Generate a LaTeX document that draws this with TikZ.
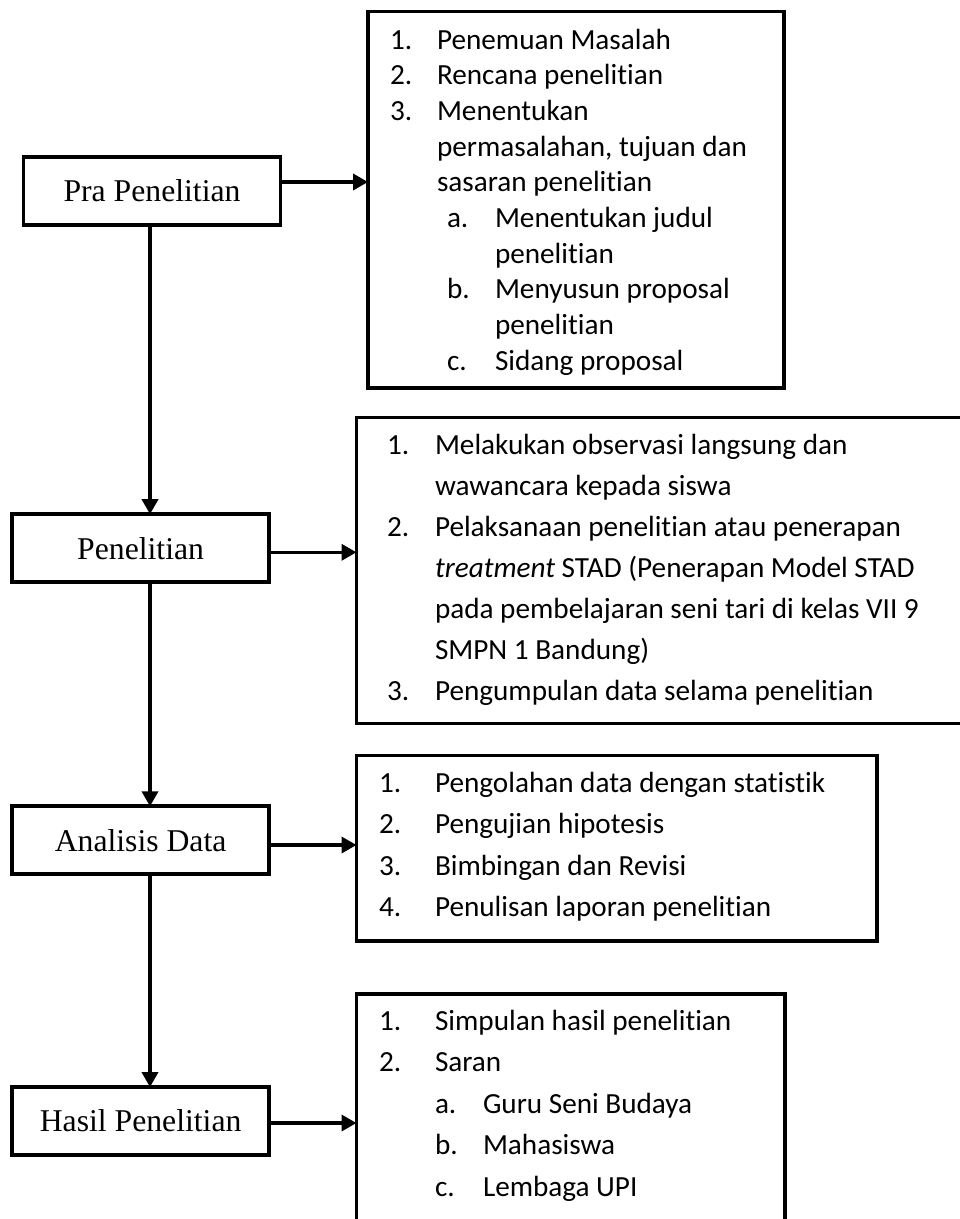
\documentclass[tikz,border=0pt]{standalone}
\usepackage{fontspec}
\setmainfont{Carlito}[Ligatures=NoCommon]
\newfontfamily\stagefont{Liberation Serif}
\usetikzlibrary{arrows.meta,calc}
\begin{document}
\begin{tikzpicture}[x=1pt,y=-1pt,
  stage/.style={draw, line width=3.8pt, minimum width=257pt, minimum height=68pt, inner sep=0pt, outer sep=0pt, font=\stagefont\fontsize{31.7pt}{38pt}\selectfont},
  listbox/.style={draw, line width=3.8pt, inner sep=0pt, outer sep=0pt},
  item/.style={anchor=base west, inner sep=0pt, outer sep=0pt, font=\fontsize{29.2pt}{35pt}\selectfont},
  flow/.style={line width=3.6pt, -{Triangle[length=15pt,width=16pt]}}]
\fill[white] (0,0) rectangle (960,1219);
\useasboundingbox (0,0) rectangle (960,1219);
\clip (0,0) rectangle (960,1219);

% stage boxes
\node[stage] (pra) at (152,190.6) {Pra Penelitian};
\node[stage] (pen) at (140.6,548.2) {Penelitian};
\node[stage] (ana) at (140.6,840.3) {Analisis Data};
\node[stage] (has) at (140.6,1121.1) {Hasil Penelitian};

% list boxes
\node[listbox, minimum width=416pt, minimum height=376.5pt] (b1) at (576,199.75) {};
\node[listbox, minimum width=643.5pt, minimum height=306pt] (b2) at (678.25,570.5) {};
\node[listbox, minimum width=520.2pt, minimum height=185.5pt] (b3) at (616.6,848.25) {};
\node[listbox, minimum width=428.5pt, minimum height=265.7pt] (b4) at (570.75,1127.15) {};

% vertical flow
\draw[flow] ([xshift=-2pt]pra.south) -- ([xshift=9.4pt]pen.north);
\draw[flow] ([xshift=9.4pt]pen.south) -- ([xshift=9.4pt]ana.north);
\draw[flow] ([xshift=9.4pt]ana.south) -- ([xshift=9.4pt]has.north);

% horizontal arrows
\coordinate (s1) at ([yshift=8.6pt]pra.east);
\coordinate (s2) at ([yshift=-4.1pt]pen.east);
\coordinate (s3) at ([yshift=-4.7pt]ana.east);
\coordinate (s4) at ([yshift=-1.9pt]has.east);
\draw[flow] (s1) -- (s1 -| b1.west);
\draw[flow] (s2) -- (s2 -| b2.west);
\draw[flow] (s3) -- (s3 -| b3.west);
\draw[flow] (s4) -- (s4 -| b4.west);

% box 1 text
\node[item] (n11) at (390,49) {1.};
\node[item] (t11) at (437,49) {Penemuan Masalah};
\node[item] (n12) at (390,84.7) {2.};
\node[item] (t12) at (437,84.7) {Rencana penelitian};
\node[item] (n13) at (390,120.4) {3.};
\node[item] (t13) at (437,120.4) {Menentukan};
\node[item] (t14) at (437,156.1) {permasalahan, tujuan dan};
\node[item] (t15) at (437,191.8) {sasaran penelitian};
\node[item] (n1a) at (447,227.5) {a.};
\node[item] (t1a) at (495,227.5) {Menentukan judul};
\node[item] (t1a2) at (495,263.2) {penelitian};
\node[item] (n1b) at (447,298.9) {b.};
\node[item] (t1b) at (495,298.9) {Menyusun proposal};
\node[item] (t1b2) at (495,334.6) {penelitian};
\node[item] (n1c) at (447,370.3) {c.};
\node[item] (t1c) at (495,370.3) {Sidang proposal};

% box 2 text
\node[item] (n21) at (387,454) {1.};
\node[item] (t21) at (435,454) {Melakukan observasi langsung dan};
\node[item] (t22) at (435,495) {wawancara kepada siswa};
\node[item] (n22) at (387,536) {2.};
\node[item] (t23) at (435,536) {Pelaksanaan penelitian atau penerapan};
\node[item] (t24) at (435,577) {\textit{treatment} STAD (Penerapan Model STAD};
\node[item] (t25) at (435,618) {pada pembelajaran seni tari di kelas VII 9};
\node[item] (t26) at (435,659) {SMPN 1 Bandung)};
\node[item] (n23) at (387,700) {3.};
\node[item] (t27) at (435,700) {Pengumpulan data selama penelitian};

% box 3 text
\node[item] (n31) at (379,792) {1.};
\node[item] (t31) at (435,792) {Pengolahan data dengan statistik};
\node[item] (n32) at (379,833.5) {2.};
\node[item] (t32) at (435,833.5) {Pengujian hipotesis};
\node[item] (n33) at (379,875) {3.};
\node[item] (t33) at (435,875) {Bimbingan dan Revisi};
\node[item] (n34) at (379,916) {4.};
\node[item] (t34) at (435,916) {Penulisan laporan penelitian};

% box 4 text
\node[item] (n41) at (379,1030) {1.};
\node[item] (t41) at (435,1030) {Simpulan hasil penelitian};
\node[item] (n42) at (379,1071) {2.};
\node[item] (t42) at (435,1071) {Saran};
\node[item] (n4a) at (435,1113) {a.};
\node[item] (t4a) at (483,1113) {Guru Seni Budaya};
\node[item] (n4b) at (435,1154) {b.};
\node[item] (t4b) at (483,1154) {Mahasiswa};
\node[item] (n4c) at (435,1196) {c.};
\node[item] (t4c) at (483,1196) {Lembaga UPI};
\end{tikzpicture}
\end{document}
